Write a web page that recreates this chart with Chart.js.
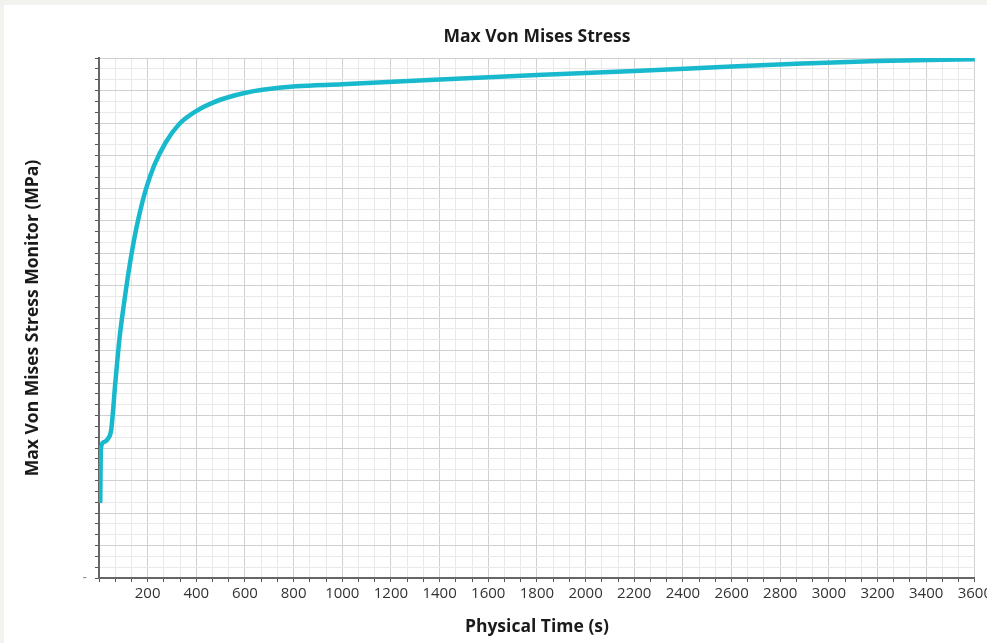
<!DOCTYPE html>
<html>
<head>
<meta charset="utf-8">
<script src="https://cdn.jsdelivr.net/npm/chart.js@4/dist/chart.umd.min.js"></script>
<style>
  html, body { margin: 0; padding: 0; }
  body { width: 987px; height: 643px; overflow: hidden; background: #f2f2ee; position: relative; }
  #panel { position: absolute; left: 4px; top: 5px; width: 1000px; height: 638px; background: #ffffff; }
  #chart { display: block; }
</style>
</head>
<body>
<div id="panel"><canvas id="chart" width="991" height="638"></canvas></div>
<script>
// Monitor history: physical time (s) and max von Mises stress (MPa)
const timeS = [5, 8, 20, 40, 50, 68, 85, 103, 123, 144, 164, 192, 226, 274, 329, 398, 466, 535, 603, 672, 809, 1000, 1400, 1800, 2200, 2600, 2890, 3200, 3600];
const stressMPa = [23.1, 40.0, 41.8, 43.2, 45.5, 60.9, 74.2, 84.6, 94.8, 104.0, 111.2, 119.4, 126.8, 134.0, 139.6, 143.6, 146.2, 148.0, 149.3, 150.2, 151.3, 151.9, 153.4, 154.8, 156.0, 157.4, 158.3, 159.1, 159.6];

// Axis ranges and tick layout
const xMin = 0, xMax = 3600, xMajorStep = 200, xMinorPerMajor = 3;
const xTickLabels = ['200', '400', '600', '800', '1000', '1200', '1400', '1600', '1800', '2000', '2200', '2400', '2600', '2800', '3000', '3200', '3400', '3600'];
const yMin = 0, yMax = 160, yMajorStep = 10, yMinorPerMajor = 3;
const yTickLabels = { 0: '-' };

const chartTitle = 'Max Von Mises Stress';
const xTitle = 'Physical Time (s)';
const yTitle = 'Max Von Mises Stress Monitor (MPa)';

const FONT = "'Open Sans', 'Noto Sans', sans-serif";
const TITLE_FONT = { family: FONT, size: 17.5, weight: 'bold', lineHeight: 1.2 };

function buildTicks(min, max, majorStep, perMajor) {
  const n = Math.round((max - min) / majorStep) * perMajor;
  const out = [];
  for (let i = 0; i <= n; i++) out.push({ value: min + i * majorStep / perMajor });
  return out;
}
function isMajorValue(v, step) {
  return Math.abs(v / step - Math.round(v / step)) < 1e-6;
}

// Chart title centred over the plot area rather than the whole canvas
const plotTitle = {
  id: 'plotTitle',
  afterDraw(chart) {
    const { ctx, chartArea } = chart;
    ctx.save();
    ctx.font = `bold ${TITLE_FONT.size}px ${FONT}`;
    ctx.fillStyle = '#1a1a1a';
    ctx.textAlign = 'center';
    ctx.textBaseline = 'middle';
    ctx.fillText(chartTitle, (chartArea.left + chartArea.right) / 2, 32);
    ctx.restore();
  }
};

const data = {
  datasets: [{
    label: yTitle,
    data: timeS.map((t, i) => ({ x: t, y: stressMPa[i] })),
    borderColor: '#18b9cd',
    borderWidth: 4.5,
    pointRadius: 0,
    fill: false,
    cubicInterpolationMode: 'monotone'
  }]
};

new Chart(document.getElementById('chart'), {
  type: 'line',
  data,
  plugins: [plotTitle],
  options: {
    responsive: false,
    animation: false,
    events: [],
    layout: { padding: { left: 0, right: 18, top: 53, bottom: 0 } },
    plugins: {
      legend: { display: false },
      tooltip: { enabled: false },
      title: { display: false }
    },
    scales: {
      x: {
        type: 'linear',
        min: xMin,
        max: xMax,
        offset: false,
        afterBuildTicks: s => { s.ticks = buildTicks(xMin, xMax, xMajorStep, xMinorPerMajor); },
        afterFit: s => { s.height = 65; },
        ticks: {
          autoSkip: false,
          maxRotation: 0,
          minRotation: 0,
          padding: 3,
          color: '#333333',
          font: { family: FONT, size: 15 },
          callback: v => {
            const r = Math.round(v);
            return (Math.abs(v - r) < 1e-6 && xTickLabels.includes(String(r))) ? String(r) : '';
          }
        },
        grid: {
          color: c => isMajorValue(c.tick.value, xMajorStep) ? '#d0d0d0' : '#e9e9e9',
          lineWidth: 1,
          tickLength: 4,
          tickColor: '#555555',
          drawTicks: true
        },
        border: { display: true, color: '#666666', width: 2 },
        title: {
          display: true,
          text: xTitle,
          color: '#1a1a1a',
          font: TITLE_FONT,
          padding: { top: 0, bottom: 5.5 }
        }
      },
      y: {
        type: 'linear',
        min: yMin,
        max: yMax,
        afterBuildTicks: s => { s.ticks = buildTicks(yMin, yMax, yMajorStep, yMinorPerMajor); },
        afterFit: s => { s.width = 95; },
        ticks: {
          autoSkip: false,
          padding: 8,
          color: '#8a8a8a',
          font: { family: FONT, size: 14 },
          callback: v => (Math.abs(v) < 1e-9 ? yTickLabels[0] : '')
        },
        grid: {
          color: c => isMajorValue(c.tick.value, yMajorStep) ? '#d0d0d0' : '#e9e9e9',
          lineWidth: 1,
          tickLength: 4,
          tickColor: '#555555',
          drawTicks: true
        },
        border: { display: true, color: '#666666', width: 2 },
        title: {
          display: true,
          text: yTitle,
          color: '#1a1a1a',
          font: TITLE_FONT,
          padding: { top: 18.5, bottom: 0 }
        }
      }
    }
  }
});
</script>
</body>
</html>
